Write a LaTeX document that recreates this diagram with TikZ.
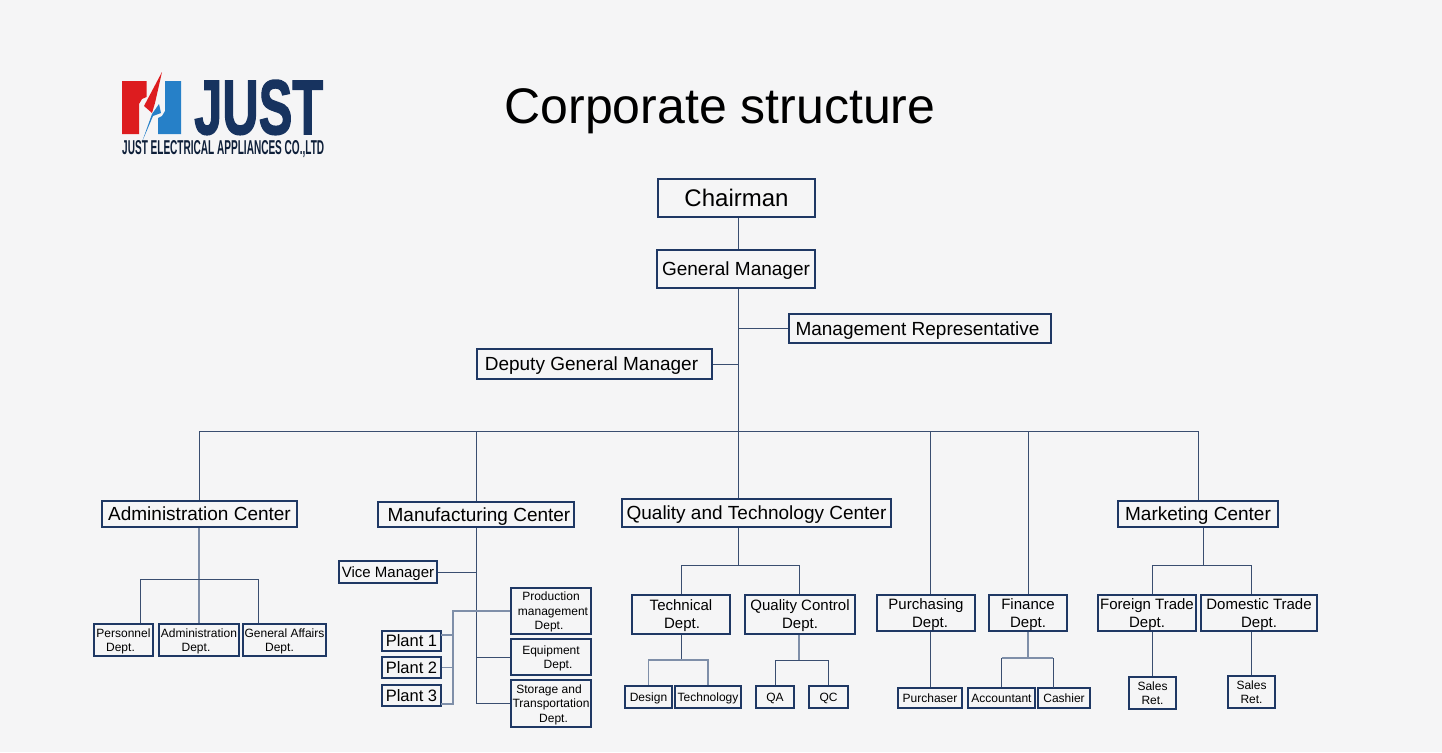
\documentclass[tikz,border=0pt]{standalone}
\usepackage{fontspec}
\setmainfont{Liberation Sans}
\newfontfamily\logofont[BoldFeatures={FakeBold=2}]{Liberation Sans}
\definecolor{pagegray}{HTML}{F5F5F6}
\definecolor{boxblue}{HTML}{1F3864}
\definecolor{linkblue}{HTML}{3A4E70}
\definecolor{linklight}{HTML}{7F8FA9}
\definecolor{justred}{HTML}{DD1C1F}
\definecolor{justblue}{HTML}{2680C8}
\definecolor{justnavy}{HTML}{17335F}
\newcommand{\fsz}[2]{\fontsize{#1pt}{#2pt}\selectfont}
\tikzset{
    box/.style={draw=boxblue,line width=1.5pt,fill=pagegray,inner sep=0pt,align=center,text depth=-1pt},
    big/.style={box,font=\fsz{19}{23}},
    mid/.style={box,font=\fsz{15}{18}},
    small/.style={box,font=\fsz{12}{14.5}},
    link/.style={draw=linkblue,line width=1pt},
    linkl/.style={draw=linklight,line width=1.4pt}
}
\begin{document}
\begin{tikzpicture}[x=1pt,y=-1pt]
    \fill[pagegray] (0,0) rectangle (1442,752);
    \useasboundingbox (0,0) rectangle (1442,752);

    % logo
    \fill[justred] (122,81) -- (146.5,81) -- (146.5,97) -- (142,99) -- (139,104) -- (139,134) -- (122,134) -- cycle;
    \fill[justred] (162,72) -- (144,106) -- (152,113) -- (155,103) -- cycle;
    \fill[justblue] (181,81) -- (165,81) -- (165,111) -- (162,116) -- (158,118) -- (158,134) -- (181,134) -- cycle;
    \fill[justblue] (142,142) -- (152,114) -- (159,104) -- (161,113) -- (153,116) -- cycle;
    \node (logo) [anchor=south west,inner sep=0pt,text=justnavy] at (194,135) {\resizebox{129pt}{54pt}{\logofont\bfseries JUST}};
    \node (logotext) [anchor=south west,inner sep=0pt,text=justnavy!60!black] at (122,158) {\resizebox{202pt}{14pt}{\bfseries JUST ELECTRICAL APPLIANCES CO.,LTD}};
    \node (title) at (720,111) {\fsz{50}{56}Corporate structure};

    % top
    \node (chairman) [box,minimum width=157pt,minimum height=38pt,font=\fsz{24}{28},text depth=-3pt] at (736.5,198) {Chairman};
    \node (gm) [big,minimum width=158pt,minimum height=38pt] at (736,269) {General Manager};
    \node (rep) [big,minimum width=262pt,minimum height=29pt] at (920,328.5) {\hspace{-5pt}Management Representative};
    \node (deputy) [big,minimum width=235pt,minimum height=30pt] at (594.5,364) {\hspace{-6pt}Deputy General Manager};

    % centers
    \node (admin) [big,minimum width=195pt,minimum height=26pt] at (199.5,514) {Administration Center};
    \node (mfg) [big,minimum width=196pt,minimum height=25pt] at (476,514.5) {\hspace{6pt}Manufacturing Center};
    \node (qt) [big,minimum width=269pt,minimum height=28pt] at (756.5,513) {Quality and Technology Center};
    \node (mkt) [big,minimum width=160pt,minimum height=26pt] at (1198,514) {Marketing Center};

    % administration
    \node (pers) [small,minimum width=59pt,minimum height=32pt] at (123.5,640) {Personnel\\\hspace{-6pt}Dept.};
    \node (adm) [small,minimum width=80pt,minimum height=32pt] at (199,640) {Administration\\\hspace{-6pt}Dept.};
    \node (ga) [small,minimum width=83pt,minimum height=32pt] at (284.5,640) {General Affairs\\\hspace{-10pt}Dept.};

    % manufacturing
    \node (vice) [mid,minimum width=98pt,minimum height=22pt] at (388,572) {Vice Manager};
    \node (prod) [small,minimum width=80pt,minimum height=46pt] at (551,611) {Production\\\hspace{4pt}management\\\hspace{-4pt}Dept.};
    \node (equip) [small,minimum width=80pt,minimum height=36pt] at (551,657) {Equipment\\\hspace{14pt}Dept.};
    \node (store) [small,minimum width=80pt,minimum height=47pt] at (551,703.5) {\hspace{-4pt}Storage and\\Transportation\\\hspace{5pt}Dept.};
    \node (pla) [box,minimum width=59pt,minimum height=20pt,font=\fsz{16.5}{20}] at (411.5,641) {Plant 1};
    \node (plb) [box,minimum width=59pt,minimum height=21pt,font=\fsz{16.5}{20}] at (411.5,667.5) {Plant 2};
    \node (plc) [box,minimum width=59pt,minimum height=21pt,font=\fsz{16.5}{20}] at (411.5,695.5) {Plant 3};

    % quality and technology
    \node (tech) [mid,minimum width=98pt,minimum height=39pt] at (681,614.5) {Technical\\\hspace{2pt}Dept.};
    \node (qcd) [mid,minimum width=110pt,minimum height=39pt] at (800,614.5) {Quality Control\\Dept.};
    \node (design) [small,minimum width=47pt,minimum height=22pt] at (648.5,697) {Design};
    \node (techn) [small,minimum width=66pt,minimum height=22pt] at (708,697) {Technology};
    \node (qa) [small,minimum width=38pt,minimum height=22pt] at (775,697) {QA};
    \node (qc) [small,minimum width=39pt,minimum height=22pt] at (828.5,697) {QC};

    % purchasing and finance
    \node (purch) [mid,minimum width=98pt,minimum height=36pt] at (926,613) {Purchasing\\\hspace{8pt}Dept.};
    \node (fin) [mid,minimum width=78pt,minimum height=36pt] at (1028,613) {Finance\\Dept.};
    \node (purchaser) [small,minimum width=64pt,minimum height=20pt] at (930,698) {Purchaser};
    \node (acc) [small,minimum width=67pt,minimum height=20pt] at (1001.5,698) {Accountant};
    \node (cash) [small,minimum width=52pt,minimum height=20pt] at (1064,698) {Cashier};

    % marketing
    \node (foreign) [mid,minimum width=98pt,minimum height=36pt] at (1147,613) {Foreign Trade\\Dept.};
    \node (domestic) [mid,minimum width=116pt,minimum height=36pt] at (1259,613) {Domestic Trade\\Dept.};
    \node (salesa) [small,minimum width=47pt,minimum height=32pt] at (1152.5,693) {Sales\\Ret.};
    \node (salesb) [small,minimum width=47pt,minimum height=32pt] at (1251.5,692) {Sales\\Ret.};

    % joints
    \coordinate (bus) at (738,431);
    \coordinate (plantbus) at (453,611);
    \coordinate (planta) at (441,635);
    \coordinate (plantc) at (441,704);
    \coordinate (adminbus) at (199,579);
    \coordinate (qtbus) at (738,565);
    \coordinate (mktbus) at (1203,565);
    \coordinate (techbus) at (681,660);
    \coordinate (qcbus) at (799,660);
    \coordinate (finbus) at (1028,658);
    \coordinate (cashtop) at (1053,688);

    % main line
    \draw[link] (chairman.south -| bus) -- (gm.north -| bus);
    \draw[link] (gm.south -| bus) -- (bus);
    \draw[link] (bus |- rep.west) -- (rep.west);
    \draw[link] (bus |- deputy.east) -- (deputy.east);
    \draw[link] (admin.north) |- (bus);
    \draw[link] (mfg.north) |- (bus);
    \draw[link] (bus) -- (bus |- qt.north);
    \draw[link] (bus) -| (purchaser.north |- purch.north);
    \draw[link] (bus) -| (fin.north);
    \draw[link] (bus) -| (mkt.north);

    % administration
    \draw[linkl] (admin.south -| adminbus) -- (adminbus |- adm.north);
    \draw[link] (adminbus) -| ([xshift=16.5pt]pers.north);
    \draw[link] (adminbus) -| ([xshift=-26.5pt]ga.north);

    % manufacturing
    \draw[link] (mfg.south) -- (mfg.south |- store.west);
    \draw[link] (vice.east) -- (mfg.south |- vice.east);
    \draw[link] (mfg.south |- equip.west) -- (equip.west);
    \draw[link] (mfg.south |- store.west) -- (store.west);
    \draw[linkl] (prod.west) -- (plantbus) |- (plantc);
    \draw[linkl] (planta) -- (plantbus |- planta);
    \draw[linkl] (plb.east) -- (plantbus |- plb.east);

    % quality and technology
    \draw[link] (qtbus |- qt.south) -- (qtbus);
    \draw[link] (qtbus) -| (tech.north);
    \draw[link] (qtbus) -| (qcbus |- qcd.north);
    \draw[link] (tech.south) -- (techbus);
    \draw[linkl] (techbus) -| (design.north);
    \draw[linkl] (techbus) -| (techn.north);
    \draw[linkl] (qcbus |- qcd.south) -- (qcbus);
    \draw[link] (qcbus) -| (qa.north);
    \draw[link] (qcbus) -| (qc.north);

    % purchasing and finance
    \draw[link] (purchaser.north |- purch.south) -- (purchaser.north);
    \draw[linkl] (fin.south) -- (finbus);
    \draw[linkl] (acc.north |- finbus) -- (cashtop |- finbus);
    \draw[link] (acc.north |- finbus) -- (acc.north);
    \draw[link] (cashtop |- finbus) -- (cashtop);

    % marketing
    \draw[link] (mkt.south -| mktbus) -- (mktbus);
    \draw[link] (mktbus) -| (salesa.north |- foreign.north);
    \draw[link] (mktbus) -| (salesb.north |- domestic.north);
    \draw[link] (salesa.north |- foreign.south) -- (salesa.north);
    \draw[link] (salesb.north |- domestic.south) -- (salesb.north);
\end{tikzpicture}
\end{document}
